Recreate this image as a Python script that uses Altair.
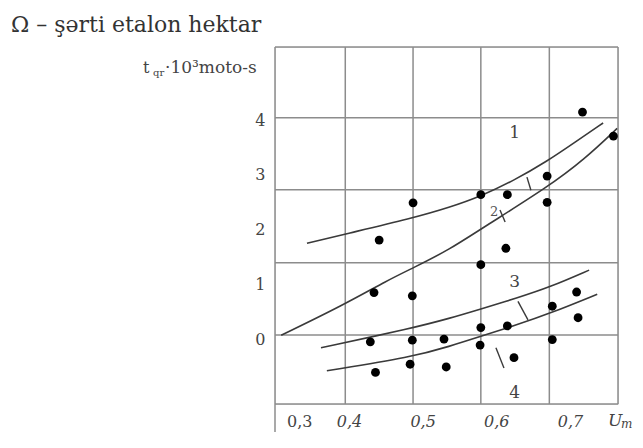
import altair as alt
import pandas as pd

# ---- axis ticks and grid ----
x_ticks = [0.3, 0.4, 0.5, 0.6, 0.7]
y_ticks = [0, 1, 2, 3, 4]
x_grid = [0.2996, 0.395, 0.487, 0.579, 0.672, 0.7652]
y_grid = [-1.187, 0.073, 1.394, 2.731, 4.046, 5.339]

# ---- measured points ----
pt_x = [0.441, 0.487, 0.579, 0.615, 0.669, 0.669, 0.717, 0.759, 0.613, 0.579,
        0.434, 0.486, 0.429, 0.486, 0.529, 0.436, 0.483, 0.532, 0.579, 0.615,
        0.578, 0.624, 0.676, 0.676, 0.709, 0.711]
pt_y = [1.81, 2.49, 2.64, 2.64, 2.98, 2.50, 4.15, 3.71, 1.66, 1.36,
        0.85, 0.79, -0.05, -0.02, 0.00, -0.61, -0.46, -0.51, 0.21, 0.24,
        -0.11, -0.34, 0.60, -0.01, 0.86, 0.39]

# ---- curves ----
c1_x = [0.343, 0.395, 0.486, 0.537, 0.579, 0.624, 0.669, 0.707, 0.745]
c1_y = [1.75, 1.92, 2.21, 2.41, 2.61, 2.90, 3.25, 3.60, 3.95]
c2_x = [0.308, 0.392, 0.453, 0.487, 0.537, 0.581, 0.670, 0.720, 0.764]
c2_y = [0.07, 0.62, 1.08, 1.30, 1.64, 2.03, 2.78, 3.29, 3.85]
c3_x = [0.362, 0.486, 0.537, 0.579, 0.628, 0.673, 0.726]
c3_y = [-0.16, 0.20, 0.38, 0.55, 0.75, 0.95, 1.26]
c4_x = [0.370, 0.486, 0.537, 0.579, 0.628, 0.673, 0.737]
c4_y = [-0.58, -0.33, -0.13, 0.05, 0.26, 0.47, 0.82]

# ---- curve labels and leader ticks ----
lab_text = ["1", "3", "4"]
lab_x = [0.625, 0.625, 0.625]
lab_y = [3.76, 1.04, -0.99]
lab2_text = ["2"]
lab2_x = [0.597]
lab2_y = [2.32]
lead_x1 = [0.6416, 0.605, 0.6294, 0.5995]
lead_y1 = [2.96, 2.36, 0.69, -0.16]
lead_x2 = [0.6470, 0.612, 0.6430, 0.6104]
lead_y2 = [2.72, 2.14, 0.35, -0.53]

FONT = "DejaVu Serif"
GRID = "#8c8c8c"
INK = "#3a3a3a"

xs = alt.Scale(domain=[x_grid[0], x_grid[-1]], nice=False, zero=False)
ys = alt.Scale(domain=[y_grid[0], y_grid[-1]], nice=False, zero=False)

xaxis = alt.Axis(
    values=x_ticks,
    labelExpr="replace(format(datum.value, '.1f'), '.', ',')",
    domain=False, ticks=False, grid=False, title=None,
    labelFont=FONT, labelFontSize=16, labelColor="#444",
    labelPadding=9, labelFlush=False, labelOverlap=False,
    labelFontStyle={"condition": {"test": "datum.value < 0.35", "value": "normal"}, "value": "italic"},
    labelOffset={"condition": {"test": "datum.value < 0.35", "value": 24}, "value": 0},
)
yaxis = alt.Axis(
    values=y_ticks, format="d",
    domain=False, ticks=False, grid=False, title=None,
    labelFont=FONT, labelFontSize=16, labelColor="#444",
    labelPadding=10, labelFlush=False, labelOverlap=False,
)


def X(f):
    return alt.X(f, type="quantitative", scale=xs, axis=xaxis)


def Y(f):
    return alt.Y(f, type="quantitative", scale=ys, axis=yaxis)


one = pd.DataFrame({"v": [0]})

vgrid = alt.Chart(pd.DataFrame({"gx": x_grid})).mark_rule(
    color=GRID, strokeWidth=1.5).encode(x=X("gx"))
hgrid = alt.Chart(pd.DataFrame({"gy": y_grid})).mark_rule(
    color=GRID, strokeWidth=1.5).encode(y=Y("gy"))
stem = alt.Chart(one).mark_rule(color=GRID, strokeWidth=1.5).encode(
    x=alt.value(0), y=alt.value(357), y2=alt.value(402))

curves_df = pd.concat([
    pd.DataFrame({"x": c1_x, "y": c1_y, "c": "1"}),
    pd.DataFrame({"x": c2_x, "y": c2_y, "c": "2"}),
    pd.DataFrame({"x": c3_x, "y": c3_y, "c": "3"}),
    pd.DataFrame({"x": c4_x, "y": c4_y, "c": "4"}),
])
curves = alt.Chart(curves_df).mark_line(
    color=INK, strokeWidth=1.6, interpolate="basis").encode(
    x=X("x"), y=Y("y"), detail="c:N")

points = alt.Chart(pd.DataFrame({"x": pt_x, "y": pt_y})).mark_circle(
    size=78, color="black", opacity=1).encode(x=X("x"), y=Y("y"))

leaders = alt.Chart(pd.DataFrame({"x1": lead_x1, "y1": lead_y1,
                                  "x2": lead_x2, "y2": lead_y2})).mark_rule(
    color=INK, strokeWidth=1.4).encode(
    x=X("x1"), y=Y("y1"), x2="x2", y2="y2")

labels = alt.Chart(pd.DataFrame({"x": lab_x, "y": lab_y, "t": lab_text})).mark_text(
    font=FONT, fontSize=17, color="#444").encode(x=X("x"), y=Y("y"), text="t:N")
labels2 = alt.Chart(pd.DataFrame({"x": lab2_x, "y": lab2_y, "t": lab2_text})).mark_text(
    font=FONT, fontSize=13, color="#555").encode(x=X("x"), y=Y("y"), text="t:N")

title = alt.Chart(one).mark_text(
    font=FONT, fontSize=22, color="#333", align="left", baseline="alphabetic").encode(
    x=alt.value(-264), y=alt.value(-15), text=alt.value("Ω – şərti etalon hektar"))
yt1 = alt.Chart(one).mark_text(
    font=FONT, fontSize=16, color="#444", align="left", baseline="alphabetic").encode(
    x=alt.value(-132), y=alt.value(26), text=alt.value("t"))
yt2 = alt.Chart(one).mark_text(
    font=FONT, fontSize=10, color="#444", align="left", baseline="alphabetic").encode(
    x=alt.value(-122), y=alt.value(29), text=alt.value("qr"))
yt3 = alt.Chart(one).mark_text(
    font=FONT, fontSize=17, color="#444", align="left", baseline="alphabetic").encode(
    x=alt.value(-110), y=alt.value(26), text=alt.value("·10³moto-s"))
um1 = alt.Chart(one).mark_text(
    font=FONT, fontSize=17, fontStyle="italic", color="#444", align="left", baseline="middle").encode(
    x=alt.value(333), y=alt.value(374), text=alt.value("U"))
um2 = alt.Chart(one).mark_text(
    font=FONT, fontSize=12, fontStyle="italic", color="#444", align="left", baseline="middle").encode(
    x=alt.value(346), y=alt.value(377), text=alt.value("m"))

chart = alt.layer(
    vgrid, hgrid, stem, curves, leaders, points, labels, labels2,
    title, yt1, yt2, yt3, um1, um2
).properties(
    width=343, height=357,
    autosize="none",
    padding={"left": 267, "top": 39, "right": 17, "bottom": 28},
).configure_view(strokeWidth=0).configure(background="white")

chart.save("out.html", embed_options={"renderer": "svg", "actions": False})
